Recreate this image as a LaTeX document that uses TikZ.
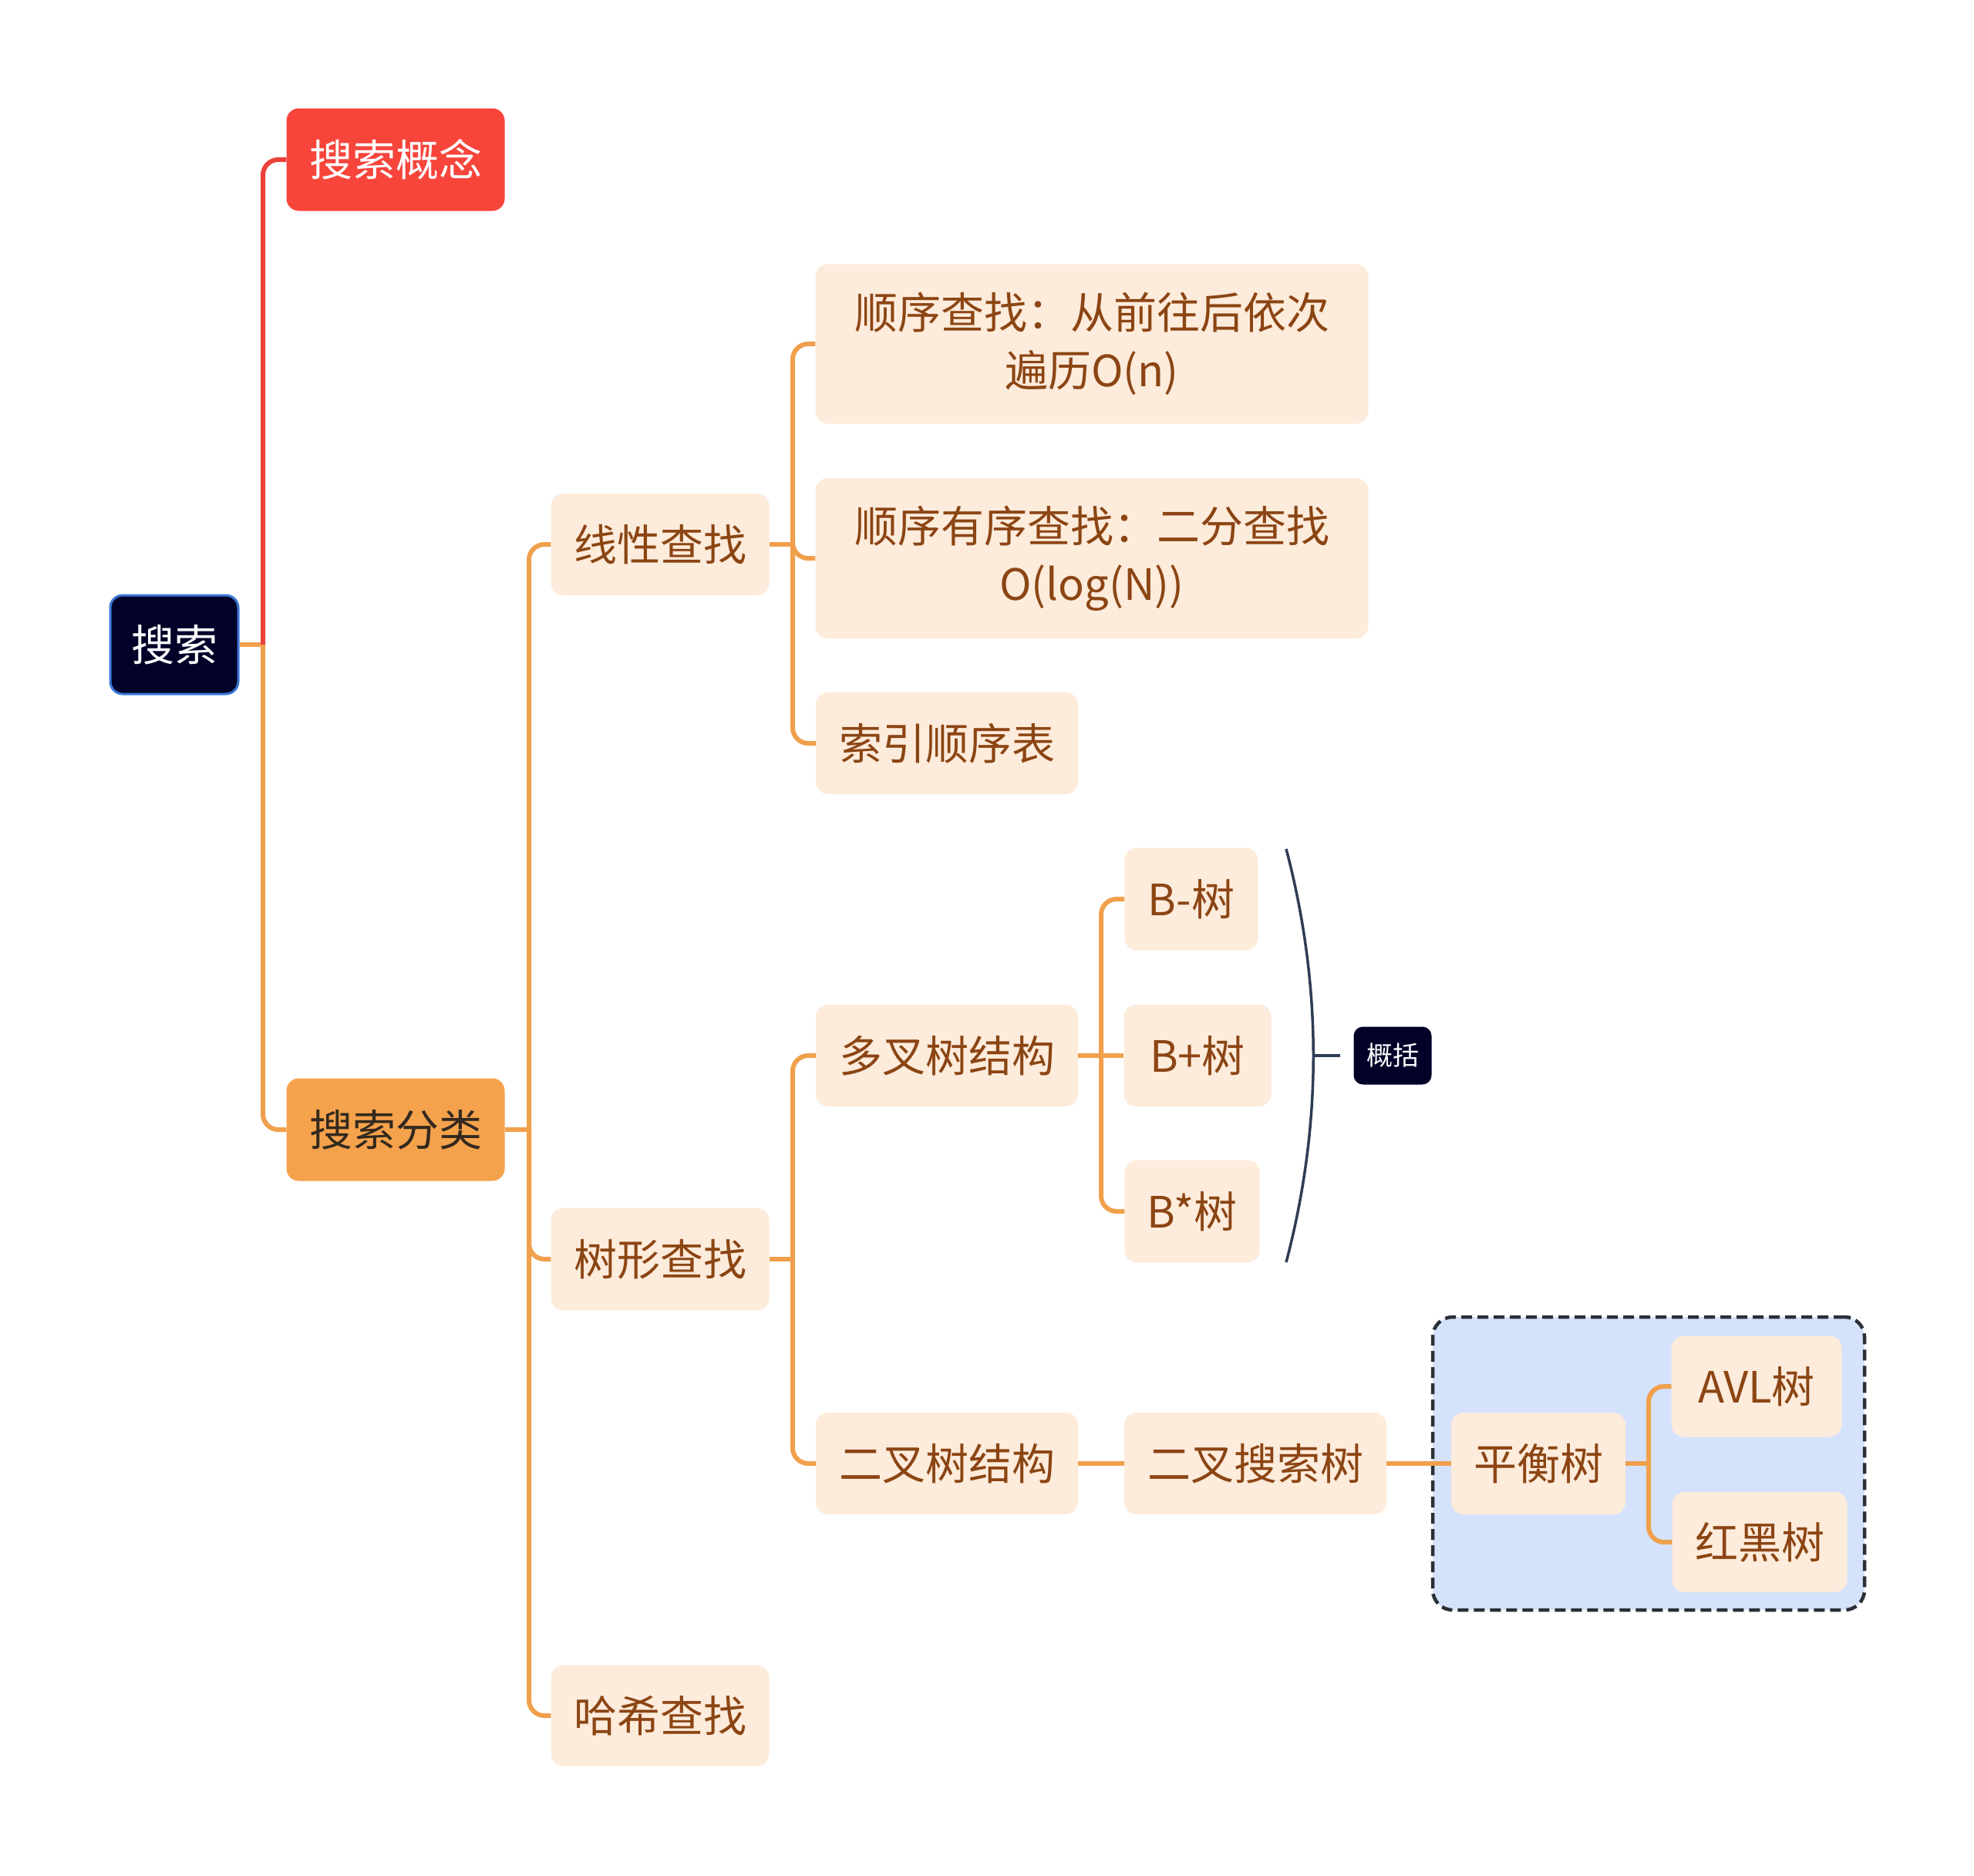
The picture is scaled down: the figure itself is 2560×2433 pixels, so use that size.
\documentclass[tikz,border=0pt]{standalone}
\usepackage{fontspec}
\setmainfont{Noto Sans CJK SC}
\usetikzlibrary{calc}
\definecolor{rootfill}{HTML}{020229}
\definecolor{rootborder}{HTML}{3B78D8}
\definecolor{redfill}{HTML}{F7453C}
\definecolor{orangefill}{HTML}{F5A24C}
\definecolor{peach}{HTML}{FDEBDB}
\definecolor{txtbrown}{HTML}{8B4513}
\definecolor{olinec}{HTML}{F0A04C}
\definecolor{rlinec}{HTML}{EB4139}
\definecolor{bluebox}{HTML}{D4E3FB}
\definecolor{dashc}{HTML}{2B2F36}
\definecolor{bracec}{HTML}{2E3D55}
\definecolor{darktxt}{HTML}{33291F}
\tikzset{
  box/.style={rounded corners=16pt, inner sep=0pt, align=center, font=\fontsize{56}{75}\selectfont},
  leaf/.style={box, fill=peach, text=txtbrown},
  oconn/.style={draw=olinec, line width=6pt, rounded corners=20pt},
  rconn/.style={draw=rlinec, line width=6pt, rounded corners=20pt},
  sumbox/.style={rounded corners=12pt, inner sep=0pt, fill=rootfill, text=white, font=\fontsize{34}{40}\selectfont},
  grpbox/.style={rounded corners=26pt, fill=bluebox, draw=dashc, line width=4.5pt, dash pattern=on 14pt off 7pt},
  bracel/.style={draw=bracec, line width=3.5pt},
}
\begin{document}
\begin{tikzpicture}[x=1pt,y=-1pt]
\useasboundingbox (0,0) rectangle (2560,2433);
% group box
\node[grpbox, minimum width=560pt, minimum height=380pt] (grp) at (2138,1898) {};
% nodes
\node[box, fill=rootfill, draw=rootborder, line width=3pt, text=white, minimum width=166pt, minimum height=128pt] (root) at (226,836) {搜索};
\node[box, fill=redfill, text=white, minimum width=283pt, minimum height=133pt] (concept) at (513,207) {搜索概念};
\node[box, fill=orangefill, text=darktxt, minimum width=283pt, minimum height=133pt] (cls) at (513,1465) {搜索分类};
\node[leaf, minimum width=283pt, minimum height=132pt] (lin) at (856,706) {线性查找};
\node[leaf, minimum width=283pt, minimum height=133pt] (tree) at (856,1633) {树形查找};
\node[leaf, minimum width=283pt, minimum height=131pt] (hash) at (856,2225) {哈希查找};
\node[leaf, minimum width=717pt, minimum height=207pt] (seq) at (1416,446) {顺序查找：从前往后依次\\遍历O(n)};
\node[leaf, minimum width=717pt, minimum height=208pt] (bin) at (1416,724) {顺序有序查找：二分查找\\O(log(N))};
\node[leaf, minimum width=340pt, minimum height=132pt] (idx) at (1228,964) {索引顺序表};
\node[leaf, minimum width=340pt, minimum height=132pt] (multi) at (1228,1369) {多叉树结构};
\node[leaf, minimum width=340pt, minimum height=132pt] (bt) at (1228,1898) {二叉树结构};
\node[leaf, minimum width=173pt, minimum height=133pt] (bminus) at (1545,1166) {B-树};
\node[leaf, minimum width=191pt, minimum height=132pt] (bplus) at (1553,1369) {B+树};
\node[leaf, minimum width=175pt, minimum height=133pt] (bstar) at (1546,1571) {B*树};
\node[leaf, minimum width=340pt, minimum height=132pt] (bst) at (1628,1898) {二叉搜索树};
\node[leaf, minimum width=226pt, minimum height=132pt] (bal) at (1995,1898) {平衡树};
\node[leaf, minimum width=221pt, minimum height=131pt] (avl) at (2278,1798) {AVL树};
\node[leaf, minimum width=227pt, minimum height=130pt] (rb) at (2282,2000) {红黑树};
\node[sumbox, minimum width=101pt, minimum height=75pt] (sum) at (1806,1369) {概括};
% junctions
\coordinate (j0) at (341,836);
\coordinate (j1) at (686,1465);
\coordinate (j2) at (1028,706);
\coordinate (j3) at (1028,1633);
\coordinate (j4) at (1428,1369);
\coordinate (j5) at (2138,1898);
% connectors
\draw[oconn] (root.east) -- (j0);
\draw[rconn] (j0) |- (concept.west);
\draw[oconn] (j0) |- (cls.west);
\draw[oconn] (cls.east) -- (j1);
\draw[oconn] (j1) |- (lin.west);
\draw[oconn] (j1) |- (tree.west);
\draw[oconn] (j1) |- (hash.west);
\draw[oconn] (lin.east) -- (j2);
\draw[oconn] (j2) |- (seq.west);
\draw[oconn] (j2) |- (bin.west);
\draw[oconn] (j2) |- (idx.west);
\draw[oconn] (tree.east) -- (j3);
\draw[oconn] (j3) |- (multi.west);
\draw[oconn] (j3) |- (bt.west);
\draw[oconn] (multi.east) -- (j4);
\draw[oconn] (j4) |- (bminus.west);
\draw[oconn] (j4) -- (bplus.west);
\draw[oconn] (j4) |- (bstar.west);
\draw[oconn] (bt.east) -- (bst.west);
\draw[oconn] (bst.east) -- (bal.west);
\draw[oconn] (bal.east) -- (j5);
\draw[oconn] (j5) |- (avl.west);
\draw[oconn] (j5) |- (rb.west);
% summary brace
\coordinate (btop) at (1668,1101);
\coordinate (bbot) at (1668,1637);
\coordinate (bmid) at (1703,1369);
\coordinate (tickend) at (1738,1369);
\draw[bracel] (btop) .. controls (1715,1280) and (1715,1458) .. (bbot);
\draw[bracel] (bmid) -- (tickend);
\end{tikzpicture}
\end{document}
